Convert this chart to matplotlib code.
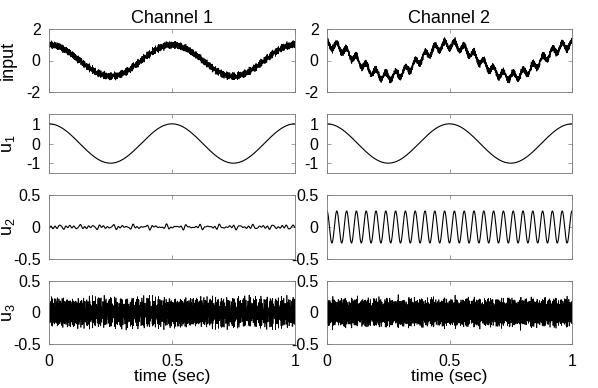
import numpy as np
import matplotlib
matplotlib.use("Agg")
import matplotlib.pyplot as plt

plt.rcParams['font.family'] = ['Liberation Sans', 'DejaVu Sans']
plt.rcParams['mathtext.fontset'] = 'custom'
plt.rcParams['mathtext.rm'] = 'Liberation Sans'
plt.rcParams['mathtext.it'] = 'Liberation Sans'

# sample times (sec)
fs = 4000
t = np.arange(0, fs + 1) / fs

# component 1: slow cosine (freq in Hz, amplitude) per channel
u1_freq = [2.0, 2.0]
u1_amp = [1.0, 1.0]

# component 2: channel 1 small wiggles, channel 2 a 25 Hz tone
u2_freqs = [[23.0, 37.0, 51.0, 66.0], [25.0]]
u2_amps = [[0.014, 0.012, 0.013, 0.011], [0.25]]
u2_phases = [[0.3, 1.9, 4.1, 2.7], [0.0]]

# component 3: dense high-frequency band (strong carrier + weaker tones)
u3_freqs = [[397, 163, 229, 311, 353, 443, 487],
            [409, 181, 241, 293, 367, 431, 499]]
u3_amps = [[0.16, 0.03, 0.035, 0.03, 0.03, 0.035, 0.03],
           [0.17, 0.02, 0.025, 0.02, 0.025, 0.02, 0.025]]
u3_phases = [[0.1, 2.3, 4.4, 1.2, 5.5, 3.1, 0.8],
             [1.4, 3.3, 0.5, 5.1, 2.2, 4.6, 0.9]]

row_labels = ['input', 'u$_1$', 'u$_2$', 'u$_3$']
col_titles = ['Channel 1', 'Channel 2']
ylims = [(-2, 2), (-1.5, 1.5), (-0.5, 0.5), (-0.5, 0.5)]
yticks = [[-2, 0, 2], [-1, 0, 1], [-0.5, 0, 0.5], [-0.5, 0, 0.5]]
xticks = [0, 0.5, 1]


def tones(freqs, amps, phases):
    s = np.zeros_like(t)
    for f, a, p in zip(freqs, amps, phases):
        s += a * np.cos(2 * np.pi * f * t + p)
    return s


W, H = 598, 388
fig = plt.figure(figsize=(W / 100, H / 100), dpi=100)

col_x = [(49, 295), (327, 572)]
row_y = [(29, 92), (114, 173), (195, 259), (281, 344)]

for c in range(2):
    u1 = u1_amp[c] * np.cos(2 * np.pi * u1_freq[c] * t)
    u2 = tones(u2_freqs[c], u2_amps[c], u2_phases[c])
    u3 = tones(u3_freqs[c], u3_amps[c], u3_phases[c])
    series = [u1 + u2 + u3, u1, u2, u3]
    for r in range(4):
        x0, x1 = col_x[c]
        y0, y1 = row_y[r]
        ax = fig.add_axes([x0 / W, 1 - y1 / H, (x1 - x0) / W, (y1 - y0) / H])
        ax.plot(t, series[r], color='black', lw=0.8 if r in (1, 2) else 0.5)
        ax.set_xlim(0, 1)
        ax.set_ylim(*ylims[r])
        ax.set_yticks(yticks[r])
        ax.set_yticklabels([f'{v:g}' for v in yticks[r]])
        ax.set_xticks(xticks)
        ax.tick_params(direction='in', length=3, width=0.5, colors='#777777',
                       labelcolor='black', labelsize=11.5, top=True, right=True)
        ax.tick_params(axis='y', pad=6)
        ax.tick_params(axis='x', pad=7)
        for s in ax.spines.values():
            s.set_color('#777777')
            s.set_linewidth(0.6)
        if r < 3:
            ax.set_xticklabels([])
        else:
            ax.set_xticklabels(['0', '0.5', '1'])
            ax.set_xlabel('time (sec)', fontsize=12.5, labelpad=0.5)
        if c == 0:
            ax.set_ylabel(row_labels[r], fontsize=13)
            ax.yaxis.set_label_coords(-0.13, 0.5)
        if r == 0:
            ax.set_title(col_titles[c], fontsize=13, pad=4)

fig.savefig('out.png', dpi=100)
